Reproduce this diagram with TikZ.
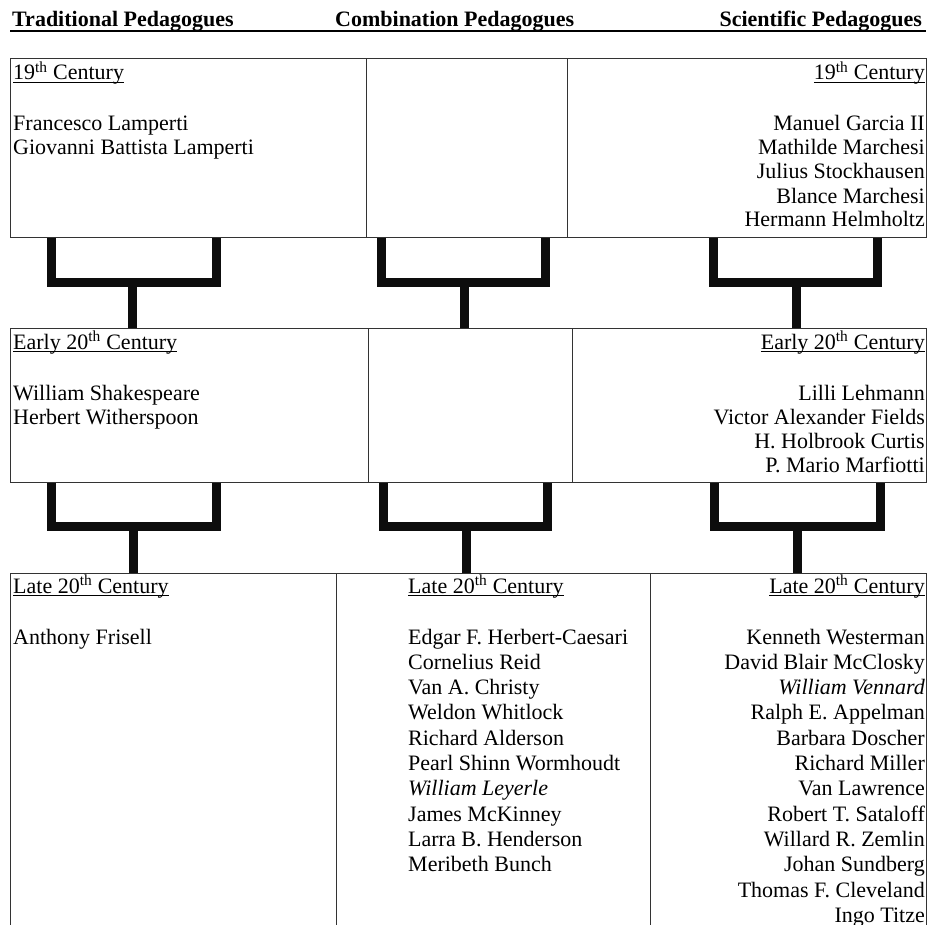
\documentclass[tikz,border=0pt]{standalone}
\usepackage{fontspec}
\setmainfont{Liberation Serif}
\usetikzlibrary{positioning}
\definecolor{RuleGray}{RGB}{51,51,51}
\newsavebox{\erabox}
\newcommand{\eraline}[1]{\sbox{\erabox}{#1\textsuperscript{th} Century}%
  \rlap{\rule[-3pt]{\wd\erabox}{0.9pt}}\usebox{\erabox}}

\begin{document}
\begin{tikzpicture}[x=1pt, y=-1pt,
    cell/.style={draw=RuleGray, line width=1pt, anchor=north west, inner sep=0pt},
    names/.style={inner sep=0pt, font=\fontsize{22}{24}\selectfont},
    latenames/.style={inner sep=0pt, font=\fontsize{22}{25.3}\selectfont},
    heading/.style={inner sep=0pt, font=\fontsize{22}{24}\selectfont\bfseries},
    bracket/.style={line width=9pt, black!95}]
    \useasboundingbox (0,0) rectangle (928,925);

    % column headings
    \node[heading, anchor=base west] (trad) at (12,27) {Traditional Pedagogues};
    \node[heading, anchor=base west] (comb) at (335,27) {Combination Pedagogues};
    \node[heading, anchor=base east] (scie) at (922,27) {Scientific Pedagogues};
    \draw[line width=2pt] (10,31.5) -- (926,31.5);

    % 19th century (texts placed by the baseline of their last line)
    \node[cell, minimum width=356pt, minimum height=179pt] (r1a) at (10,58) {};
    \node[cell, minimum width=201pt, minimum height=179pt] (r1b) at (366,58) {};
    \node[cell, minimum width=359pt, minimum height=179pt] (r1c) at (567,58) {};
    \node[names, align=left, anchor=base west] (t1a) at (13,155) {\eraline{19}\\[27pt]
        Francesco Lamperti\\ Giovanni Battista Lamperti};
    \node[names, align=right, anchor=base east] (t1c) at (925,227) {\eraline{19}\\[27pt]
        Manuel Garcia II\\ Mathilde Marchesi\\ Julius Stockhausen\\ Blance Marchesi\\ Hermann Helmholtz};

    % early 20th century
    \node[cell, minimum width=358pt, minimum height=154.5pt] (r2a) at (10,327.5) {};
    \node[cell, minimum width=204pt, minimum height=154.5pt] (r2b) at (368,327.5) {};
    \node[cell, minimum width=354pt, minimum height=154.5pt] (r2c) at (572,327.5) {};
    \node[names, align=left, anchor=base west] (t2a) at (13,424) {\eraline{Early 20}\\[27pt]
        William Shakespeare\\ Herbert Witherspoon};
    \node[names, align=right, anchor=base east] (t2c) at (925,472) {\eraline{Early 20}\\[27pt]
        Lilli Lehmann\\ Victor Alexander Fields\\ H. Holbrook Curtis\\ P. Mario Marfiotti};

    % late 20th century
    \node[cell, minimum width=326pt, minimum height=362pt] (r3a) at (10,573) {};
    \node[cell, minimum width=314pt, minimum height=362pt] (r3b) at (336,573) {};
    \node[cell, minimum width=276pt, minimum height=362pt] (r3c) at (650,573) {};
    \node[latenames, align=left, anchor=base west] (t3a) at (13,644) {\eraline{Late 20}\\[25.7pt]
        Anthony Frisell};
    \node[latenames, align=left, anchor=base west] (t3b) at (408,871.7) {\eraline{Late 20}\\[25.7pt]
        Edgar F. Herbert-Caesari\\ Cornelius Reid\\ Van A. Christy\\ Weldon Whitlock\\
        Richard Alderson\\ Pearl Shinn Wormhoudt\\ \textit{William Leyerle}\\ James McKinney\\
        Larra B. Henderson\\ Meribeth Bunch};
    \node[latenames, align=right, anchor=base east] (t3c) at (925,922.3) {\eraline{Late 20}\\[25.7pt]
        Kenneth Westerman\\ David Blair McClosky\\ \textit{William Vennard}\\ Ralph E. Appelman\\
        Barbara Doscher\\ Richard Miller\\ Van Lawrence\\ Robert T. Sataloff\\ Willard R. Zemlin\\
        Johan Sundberg\\ Thomas F. Cleveland\\ Ingo Titze};

    % brackets between the rows
    \draw[bracket] ([xshift=41.5pt]r1a.south west) -- ++(0,44.5) -| ([xshift=206.5pt]r1a.south west);
    \draw[bracket] ([xshift=15.5pt]r1b.south west) -- ++(0,44.5) -| ([xshift=179.5pt]r1b.south west);
    \draw[bracket] ([xshift=146.5pt]r1c.south west) -- ++(0,44.5) -| ([xshift=310.5pt]r1c.south west);
    \draw[bracket] ([xshift=122pt]r2a.north west) -- ++(0,-46);
    \draw[bracket] ([xshift=96.5pt]r2b.north west) -- ++(0,-46);
    \draw[bracket] ([xshift=224.5pt]r2c.north west) -- ++(0,-46);

    \draw[bracket] ([xshift=41.5pt]r2a.south west) -- ++(0,43.5) -| ([xshift=206.5pt]r2a.south west);
    \draw[bracket] ([xshift=15.5pt]r2b.south west) -- ++(0,43.5) -| ([xshift=179.5pt]r2b.south west);
    \draw[bracket] ([xshift=142.5pt]r2c.south west) -- ++(0,43.5) -| ([xshift=308.5pt]r2c.south west);
    \draw[bracket] ([xshift=123pt]r3a.north west) -- ++(0,-47.5);
    \draw[bracket] ([xshift=130pt]r3b.north west) -- ++(0,-47.5);
    \draw[bracket] ([xshift=147.5pt]r3c.north west) -- ++(0,-47.5);
\end{tikzpicture}
\end{document}
